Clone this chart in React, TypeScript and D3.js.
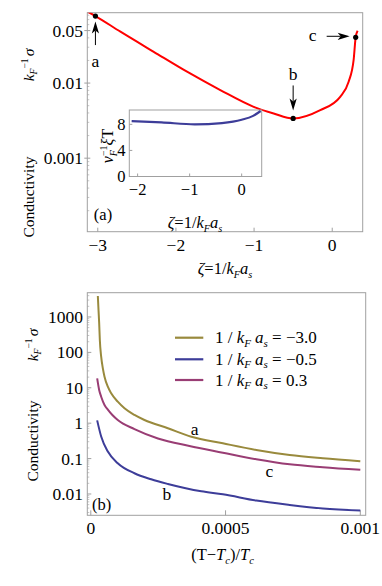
import React from "react";
import * as d3 from "d3";

// ---------- Panel (a): conductivity vs zeta ----------
const zetaA = [-3.134, -3.03, -2.71, -2.284, -1.858, -1.432, -1.005, -0.749, -0.5, -0.153, 0.102, 0.21, 0.274, 0.3, 0.325];
const sigmaA = [0.0898, 0.078, 0.0483, 0.0261, 0.01416, 0.00807, 0.00483, 0.00394, 0.00338, 0.00436, 0.00656, 0.0104, 0.0203, 0.0407, 0.0498];
const markZeta = [-3.03, -0.5, 0.3];
const markSigma = [0.078, 0.00338, 0.0407];
const markLabels = ["a", "b", "c"];
const xTicksA = [-3, -2, -1, 0];
const xTickLabelsA = ["\u22123", "\u22122", "\u22121", "0"];
const yTicksA = [0.05, 0.01, 0.001];
const yTickLabelsA = ["0.05", "0.01", "0.001"];

// ---------- Inset: v_F^-1 xi T vs zeta ----------
const zetaIn = [-2.115, -1.54, -0.9, -0.38, 0, 0.22, 0.365];
const xiTIn = [8.5, 8.3, 8.0, 8.2, 8.7, 9.3, 10.05];
const xTicksIn = [-2, -1, 0];
const xTickLabelsIn = ["\u22122", "\u22121", "0"];
const yTicksIn = [0, 4, 8];

// ---------- Panel (b): conductivity vs (T-Tc)/Tc ----------
const seriesNames = ["\u22123.0", "\u22120.5", "0.3"];
const tGold = [2.61e-5, 2.86e-5, 3.11e-5, 3.35e-5, 3.85e-5, 4.47e-5, 5.09e-5, 6.32e-5, 7.56e-5, 1.0e-4, 1.25e-4, 1.62e-4, 1.99e-4, 2.86e-4, 3.73e-4, 4.9e-4, 6.14e-4, 7.38e-4, 8.61e-4, 1.0e-3];
const sGold = [3920, 1580, 661, 224, 75.5, 35.5, 20.6, 10.7, 7.0, 4.05, 2.64, 1.71, 1.23, 0.72, 0.416, 0.27, 0.175, 0.126, 0.102, 0.084];
const tBlue = [2.36e-5, 3.85e-5, 6.32e-5, 1.0e-4, 1.62e-4, 2.24e-4, 2.86e-4, 3.48e-4, 4.1e-4, 4.9e-4, 6.14e-4, 7.38e-4, 8.61e-4, 1.0e-3];
const sBlue = [1.2, 0.42, 0.158, 0.074, 0.0385, 0.026, 0.0192, 0.0148, 0.0119, 0.0098, 0.0065, 0.0049, 0.0039, 0.0034];
const tMag = [2.36e-5, 3.1e-5, 3.85e-5, 5.09e-5, 6.32e-5, 8.0e-5, 1.0e-4, 1.62e-4, 2.49e-4, 3.66e-4, 4.9e-4, 6.14e-4, 7.38e-4, 8.61e-4, 1.0e-3];
const sMag = [18.5, 8.7, 5.6, 3.27, 2.4, 1.7, 1.23, 0.68, 0.37, 0.227, 0.147, 0.096, 0.069, 0.057, 0.048];
const xTicksB = [0, 0.0005, 0.001];
const xTickLabelsB = ["0", "0.0005", "0.001"];
const yTicksB = [0.01, 0.1, 1, 10, 100, 1000];
const yTickLabelsB = ["0.01", "0.1", "1", "10", "100", "1000"];
const curveLabelsB = ["a", "b", "c"];
const curveLabelT = [3.85e-4, 2.82e-4, 6.63e-4];
const curveLabelS = [0.46, 0.0068, 0.031];

const FONT = "'Liberation Serif', 'DejaVu Serif', serif";
const FRAME = "#a0a0a0";
const RED = "#ff0000";
const BLUE = "#3d3d99";
const GOLD = "#998a3d";
const MAG = "#993d74";

const W = 382, H = 586;

// scales
const xA = d3.scaleLinear().domain([-3.134, 0.39]).range([87.3, 362.7]);
const yA = d3.scaleLog().domain([1.05e-4, 0.0865]).range([231.7, 12.7]);
const xIn = d3.scaleLinear().domain([-2.16, 0.385]).range([129.3, 261.7]);
const yIn = d3.scaleLinear().domain([0, 10.2]).range([176.5, 110]);
const xB = d3.scaleLinear().domain([-1.3e-5, 1.02e-3]).range([87.3, 365.7]);
const yB = d3.scaleLog().domain([0.0025, 4850]).range([515.3, 292.7]);

function pts(xs: number[], ys: number[]) {
  return xs.map((x, i) => [x, ys[i]] as [number, number]);
}

function lineGen(sx: any, sy: any) {
  return d3
    .line<[number, number]>()
    .x((d) => sx(d[0]))
    .y((d) => sy(d[1]))
    .curve(d3.curveMonotoneX);
}

// label "ζ=1/k_F a_s"
function ZetaLabel({ x, y, size }: { x: number; y: number; size: number }) {
  const sub = size * 0.62;
  return (
    <text x={x} y={y} fontFamily={FONT} fontSize={size} textAnchor="middle" fill="#000">
      <tspan fontStyle="italic">ζ</tspan>
      <tspan>=1/</tspan>
      <tspan fontStyle="italic">k</tspan>
      <tspan fontStyle="italic" fontSize={sub} dy={size * 0.22}>F</tspan>
      <tspan fontStyle="italic" dy={-size * 0.22}>a</tspan>
      <tspan fontStyle="italic" fontSize={sub} dy={size * 0.22}>s</tspan>
    </text>
  );
}

function KSigma({ x, y, size }: { x: number; y: number; size: number }) {
  const sub = size * 0.62;
  return (
    <text transform={`translate(${x},${y}) rotate(-90)`} fontFamily={FONT} fontSize={size} textAnchor="middle" fill="#000">
      <tspan fontStyle="italic">k</tspan>
      <tspan fontStyle="italic" fontSize={sub} dy={size * 0.22}>F</tspan>
      <tspan fontSize={sub} dy={-size * 0.6}>{"\u22121"}</tspan>
      <tspan fontStyle="italic" dy={size * 0.38} dx={2}>σ</tspan>
    </text>
  );
}

function Arrow({ x1, y1, x2, y2 }: { x1: number; y1: number; x2: number; y2: number }) {
  const dx = x2 - x1, dy = y2 - y1;
  const L = Math.hypot(dx, dy);
  const ux = dx / L, uy = dy / L;
  const hl = 12, hw = 3.6;
  const bx = x2 - ux * hl, by = y2 - uy * hl;
  const px = -uy, py = ux;
  const notchX = x2 - ux * hl * 0.75, notchY = y2 - uy * hl * 0.75;
  return (
    <g>
      <line x1={x1} y1={y1} x2={notchX} y2={notchY} stroke="#000" strokeWidth={1} />
      <path d={`M${x2},${y2} L${bx + px * hw},${by + py * hw} L${notchX},${notchY} L${bx - px * hw},${by - py * hw} Z`} fill="#000" />
    </g>
  );
}

export default function App() {
  const lineA = lineGen(xA, yA);
  const lineIn = lineGen(xIn, yIn);
  const lineB = lineGen(xB, yB);

  const aL = 87.3, aR = 362.7, aT = 12.7, aB = 231.7;
  const iL = 129.3, iR = 261.7, iT = 110, iB = 176.5;
  const bL = 87.3, bR = 365.7, bT = 292.7, bB = 515.3;

  // minor log ticks for panel b
  const minorB: number[] = [];
  for (let e = -3; e <= 3; e++) {
    for (let m = 2; m <= 9; m++) {
      const v = m * Math.pow(10, e);
      if (v > 0.0025 && v < 4850) minorB.push(v);
    }
  }
  const minorA: number[] = [];
  for (let e = -4; e <= -2; e++) {
    for (let m = 2; m <= 9; m++) {
      const v = m * Math.pow(10, e);
      if (v > 1.05e-4 && v < 0.0865 && v !== 0.05) minorA.push(v);
    }
  }

  const mx = markZeta.map((z) => xA(z));
  const my = markSigma.map((s) => yA(s));

  const legendY = [337.7, 359.3, 380];
  const legendColors = [GOLD, BLUE, MAG];

  return (
    <svg width={W} height={H} style={{ position: "absolute", left: 0, top: 0, background: "#fff" }} xmlns="http://www.w3.org/2000/svg">
      <defs>
        <clipPath id="clipA">
          <rect x={aL} y={aT} width={aR - aL} height={aB - aT} />
        </clipPath>
        <clipPath id="clipB">
          <rect x={bL} y={bT} width={bR - bL} height={bB - bT} />
        </clipPath>
      </defs>

      {/* ================= Panel (a) ================= */}
      <rect x={aL} y={aT} width={aR - aL} height={aB - aT} fill="none" stroke={FRAME} strokeWidth={1} />
      {xTicksA.map((t) => (
        <line key={"xat" + t} x1={xA(t)} x2={xA(t)} y1={aB} y2={aB - 4} stroke={FRAME} strokeWidth={1} />
      ))}
      {yTicksA.map((t) => (
        <line key={"yat" + t} x1={aL - 3} x2={aL + 3} y1={yA(t)} y2={yA(t)} stroke={FRAME} strokeWidth={1} />
      ))}
      {minorA.map((t) => (
        <line key={"yam" + t} x1={aL} x2={aL + 2} y1={yA(t)} y2={yA(t)} stroke={FRAME} strokeWidth={0.6} />
      ))}
      {xTicksA.map((t, i) => (
        <text key={"xal" + t} x={xA(t)} y={251} fontFamily={FONT} fontSize={17.5} textAnchor="middle">
          {xTickLabelsA[i]}
        </text>
      ))}
      {yTicksA.map((t, i) => (
        <text key={"yal" + t} x={83} y={yA(t) + 6} fontFamily={FONT} fontSize={17.5} textAnchor="end">
          {yTickLabelsA[i]}
        </text>
      ))}
      <ZetaLabel x={225} y={274} size={16.5} />
      <text transform="translate(34,197) rotate(-90)" fontFamily={FONT} fontSize={15.5} textAnchor="middle">
        Conductivity
      </text>
      <KSigma x={34} y={65} size={15.5} />

      <path d={lineA(pts(zetaA, sigmaA)) || ""} fill="none" stroke={RED} strokeWidth={2} clipPath="url(#clipA)" />

      {/* markers and arrows */}
      {mx.map((x, i) => (
        <circle key={"m" + i} cx={x} cy={my[i]} r={2.6} fill="#000" />
      ))}
      <Arrow x1={mx[0]} y1={my[0] + 29} x2={mx[0]} y2={my[0] + 5.5} />
      <text x={mx[0]} y={my[0] + 51} fontFamily={FONT} fontSize={17.5} textAnchor="middle">{markLabels[0]}</text>
      <Arrow x1={mx[1]} y1={my[1] - 33} x2={mx[1]} y2={my[1] - 8} />
      <text x={mx[1]} y={my[1] - 38} fontFamily={FONT} fontSize={17.5} textAnchor="middle">{markLabels[1]}</text>
      <Arrow x1={mx[2] - 29} y1={my[2] - 1} x2={mx[2] - 6} y2={my[2] - 1} />
      <text x={mx[2] - 43} y={my[2] + 4} fontFamily={FONT} fontSize={17.5} textAnchor="middle">{markLabels[2]}</text>

      <text x={103} y={220} fontFamily={FONT} fontSize={16.5} textAnchor="middle">(a)</text>

      {/* ================= Inset ================= */}
      <rect x={iL} y={iT} width={iR - iL} height={iB - iT} fill="#fff" stroke={FRAME} strokeWidth={1} />
      {xTicksIn.map((t) => (
        <line key={"xit" + t} x1={xIn(t)} x2={xIn(t)} y1={iB} y2={iB - 3} stroke={FRAME} strokeWidth={1} />
      ))}
      {yTicksIn.map((t) => (
        <line key={"yit" + t} x1={iL} x2={iL + 3} y1={yIn(t)} y2={yIn(t)} stroke={FRAME} strokeWidth={1} />
      ))}
      {xTicksIn.map((t, i) => (
        <text key={"xil" + t} x={xIn(t)} y={194.5} fontFamily={FONT} fontSize={16.5} textAnchor="middle">
          {xTickLabelsIn[i]}
        </text>
      ))}
      {yTicksIn.map((t) => (
        <text key={"yil" + t} x={125.5} y={yIn(t) + 5.5} fontFamily={FONT} fontSize={16.5} textAnchor="end">
          {t}
        </text>
      ))}
      <path d={lineIn(pts(zetaIn, xiTIn)) || ""} fill="none" stroke={BLUE} strokeWidth={2.2} />
      <text transform="translate(113,146) rotate(-90)" fontFamily={FONT} fontSize={16} textAnchor="middle">
        <tspan fontStyle="italic">v</tspan>
        <tspan fontStyle="italic" fontSize={10} dy={3.5}>F</tspan>
        <tspan fontSize={10} dx={-6} dy={-10}>{"\u22121"}</tspan>
        <tspan fontStyle="italic" dy={6.5}>ξ</tspan>
        <tspan>T</tspan>
      </text>
      <ZetaLabel x={195} y={228} size={16.5} />

      {/* ================= Panel (b) ================= */}
      <rect x={bL} y={bT} width={bR - bL} height={bB - bT} fill="none" stroke={FRAME} strokeWidth={1} />
      {xTicksB.map((t) => (
        <line key={"xbt" + t} x1={xB(t)} x2={xB(t)} y1={bB} y2={bB - 5} stroke={FRAME} strokeWidth={1} />
      ))}
      {yTicksB.map((t) => (
        <line key={"ybt" + t} x1={bL} x2={bL + 4} y1={yB(t)} y2={yB(t)} stroke={FRAME} strokeWidth={1} />
      ))}
      {minorB.map((t) => (
        <line key={"ybm" + t} x1={bL} x2={bL + 2} y1={yB(t)} y2={yB(t)} stroke={FRAME} strokeWidth={0.6} />
      ))}
      {xTicksB.map((t, i) => (
        <text key={"xbl" + t} x={xB(t)} y={534} fontFamily={FONT} fontSize={17.5} textAnchor="middle">
          {xTickLabelsB[i]}
        </text>
      ))}
      {yTicksB.map((t, i) => (
        <text key={"ybl" + t} x={83} y={yB(t) + 6} fontFamily={FONT} fontSize={17.5} textAnchor="end">
          {yTickLabelsB[i]}
        </text>
      ))}
      <text x={222.5} y={560} fontFamily={FONT} fontSize={16.5} textAnchor="middle">
        <tspan>(T{"\u2212"}</tspan>
        <tspan fontStyle="italic">T</tspan>
        <tspan fontStyle="italic" fontSize={10.5} dy={3.5}>c</tspan>
        <tspan dy={-3.5}>)/</tspan>
        <tspan fontStyle="italic">T</tspan>
        <tspan fontStyle="italic" fontSize={10.5} dy={3.5}>c</tspan>
      </text>
      <text transform="translate(38,441) rotate(-90)" fontFamily={FONT} fontSize={15.5} textAnchor="middle">
        Conductivity
      </text>
      <KSigma x={38} y={345} size={15.5} />

      <g clipPath="url(#clipB)">
        <path d={lineB(pts(tGold, sGold)) || ""} fill="none" stroke={GOLD} strokeWidth={2} />
        <path d={lineB(pts(tBlue, sBlue)) || ""} fill="none" stroke={BLUE} strokeWidth={2} />
        <path d={lineB(pts(tMag, sMag)) || ""} fill="none" stroke={MAG} strokeWidth={2} />
      </g>

      {curveLabelsB.map((l, i) => (
        <text key={"cl" + l} x={xB(curveLabelT[i])} y={yB(curveLabelS[i])} fontFamily={FONT} fontSize={17.5} textAnchor="middle">
          {l}
        </text>
      ))}
      <text x={101.7} y={510} fontFamily={FONT} fontSize={16.5} textAnchor="middle">(b)</text>

      {/* legend */}
      {seriesNames.map((n, i) => (
        <g key={"lg" + i}>
          <line x1={175} x2={203.3} y1={legendY[i]} y2={legendY[i]} stroke={legendColors[i]} strokeWidth={2.2} />
          <text x={215} y={legendY[i] + 5.5} fontFamily={FONT} fontSize={17}>
            <tspan>1 / </tspan>
            <tspan fontStyle="italic">k</tspan>
            <tspan fontStyle="italic" fontSize={11} dy={3.5}>F</tspan>
            <tspan fontStyle="italic" dy={-3.5} dx={4}>a</tspan>
            <tspan fontStyle="italic" fontSize={11} dy={3.5}>s</tspan>
            <tspan dy={-3.5}>{" = " + n}</tspan>
          </text>
        </g>
      ))}
    </svg>
  );
}
